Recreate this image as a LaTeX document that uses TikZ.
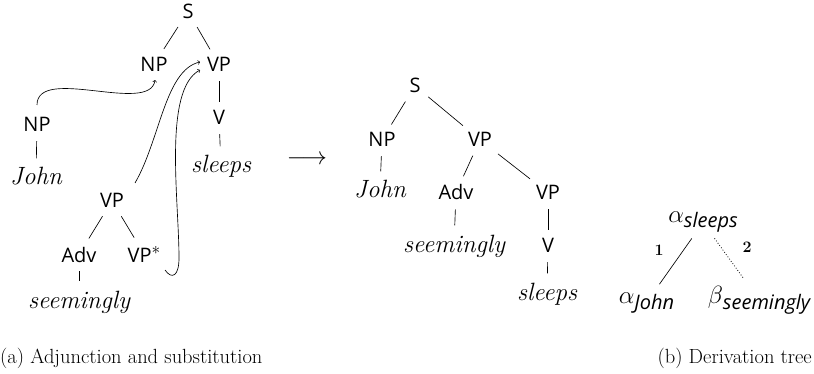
\documentclass[tikz,border=0pt]{standalone}
\usepackage{fontspec}
\usetikzlibrary{calc}
\newfontfamily\labfont{Open Sans}
\newcommand{\lfont}{\labfont\fontsize{20}{24}\selectfont}
\newcommand{\wfont}{\fontsize{25}{30}\selectfont\itshape}
\newcommand{\sfnt}{\labfont\itshape\fontsize{20}{24}\selectfont}
\begin{document}
\begin{tikzpicture}[x=1pt,y=-1pt,
  lab/.style={font=\lfont, inner sep=3pt, anchor=base},
  wrd/.style={font=\wfont, inner sep=3pt, anchor=base},
  br/.style={line width=0.65pt, shorten <=6pt, shorten >=6pt},
  arr/.style={->, line width=0.65pt},
  capt/.style={font=\fontsize{20.5}{24}\selectfont, inner sep=0pt},
  der/.style={font=\fontsize{23}{28}\selectfont, inner sep=3pt, anchor=base},
  num/.style={font=\fontsize{16}{19}\selectfont\bfseries, inner sep=0pt, anchor=base}]
\useasboundingbox (0,0) rectangle (814,374);
% ---- left: elementary trees
\node[lab] (S1) at (188,18.5) {S};
\node[lab] (NP1) at (154,71.5) {NP};
\node[lab] (VP1) at (219,72) {VP};
\node[lab] (V1) at (219,125) {V};
\node[wrd] (sl1) at (221,173) {sleeps};
\node[lab] (NP2) at (37,132) {NP};
\node[wrd] (jo1) at (36,185) {John};
\node[lab] (VP2) at (112,208) {VP};
\node[lab] (Adv1) at (79,262) {Adv};
\node[lab] (VPs) at (144,262) {VP\raisebox{8pt}{\fontsize{16}{18}\selectfont$\ast$}};
\node[wrd] (se1) at (79,308) {seemingly};
\draw[br] (S1) -- (NP1);
\draw[br] (S1) -- (VP1);
\draw[br] (VP1) -- (V1);
\draw[br] (V1) -- (sl1);
\draw[br] (NP2) -- (jo1);
\draw[br] (VP2) -- (Adv1);
\draw[br] (VP2) -- (VPs);
\draw[br] (Adv1) -- (se1);
% substitution / adjunction arrows
\coordinate (a1s) at ($(NP2.base)+(0,-27)$);
\coordinate (a1e) at ($(NP1.base)+(1,8.5)$);
\coordinate (a2s) at ($(VP2.base)+(23,-25)$);
\coordinate (a2e) at ($(VP1.base)+(-19,-10)$);
\coordinate (a3s) at ($(VPs.base)+(21,8)$);
\coordinate (a3e) at ($(VP1.base)+(-19,-2)$);
\draw[arr] (a1s) .. controls +(0,-40) and +(-5,35) .. (a1e);
\draw[arr] (a2s) .. controls +(25,-43) and +(-35,8) .. (a2e);
\draw[arr] (a3s) .. controls +(7,10) and +(0,18) .. ++(14,-12)
  .. controls +(0,-58) and +(-37,20) .. (a3e);
% ---- long arrow
\node[font=\fontsize{24}{28}\selectfont, inner sep=0pt, anchor=base] (lar) at (307,165) {$\longrightarrow$};
% ---- middle: derived tree
\node[lab] (S3) at (415,93) {S};
\node[lab] (NP3) at (382,147) {NP};
\node[lab] (VP3) at (480,147) {VP};
\node[wrd] (jo2) at (380,198) {John};
\node[lab] (Adv2) at (456,200) {Adv};
\node[lab] (VP4) at (548,200) {VP};
\node[wrd] (se2) at (454,252) {seemingly};
\node[lab] (V2) at (548,253) {V};
\node[wrd] (sl2) at (547,300) {sleeps};
\draw[br] (S3) -- (NP3);
\draw[br] (S3) -- (VP3);
\draw[br] (NP3) -- (jo2);
\draw[br] (VP3) -- (Adv2);
\draw[br] (VP3) -- (VP4);
\draw[br] (Adv2) -- (se2);
\draw[br] (VP4) -- (V2);
\draw[br] (V2) -- (sl2);
% ---- right: derivation tree
\node[der] (dr) at (703,223) {$\alpha$\raisebox{-5pt}{\sfnt sleeps}};
\node[der] (dj) at (646.5,303) {$\alpha$\raisebox{-6pt}{\sfnt John}};
\node[der] (db) at (759,303) {$\beta$\raisebox{-6pt}{\sfnt seemingly}};
\node[num] (n1) at (659,255) {1};
\node[num] (n2) at (747,253) {2};
\draw[line width=0.65pt, shorten <=3pt, shorten >=6pt] (dr) -- (dj);
\draw[line width=0.8pt, dotted, shorten <=3pt, shorten >=6pt] (dr) -- (db);
% ---- captions
\node[capt, anchor=base west] (ca) at (0,363) {(a) Adjunction and substitution};
\node[capt, anchor=base east] (cb) at (812,363) {(b) Derivation tree};
\end{tikzpicture}
\end{document}
